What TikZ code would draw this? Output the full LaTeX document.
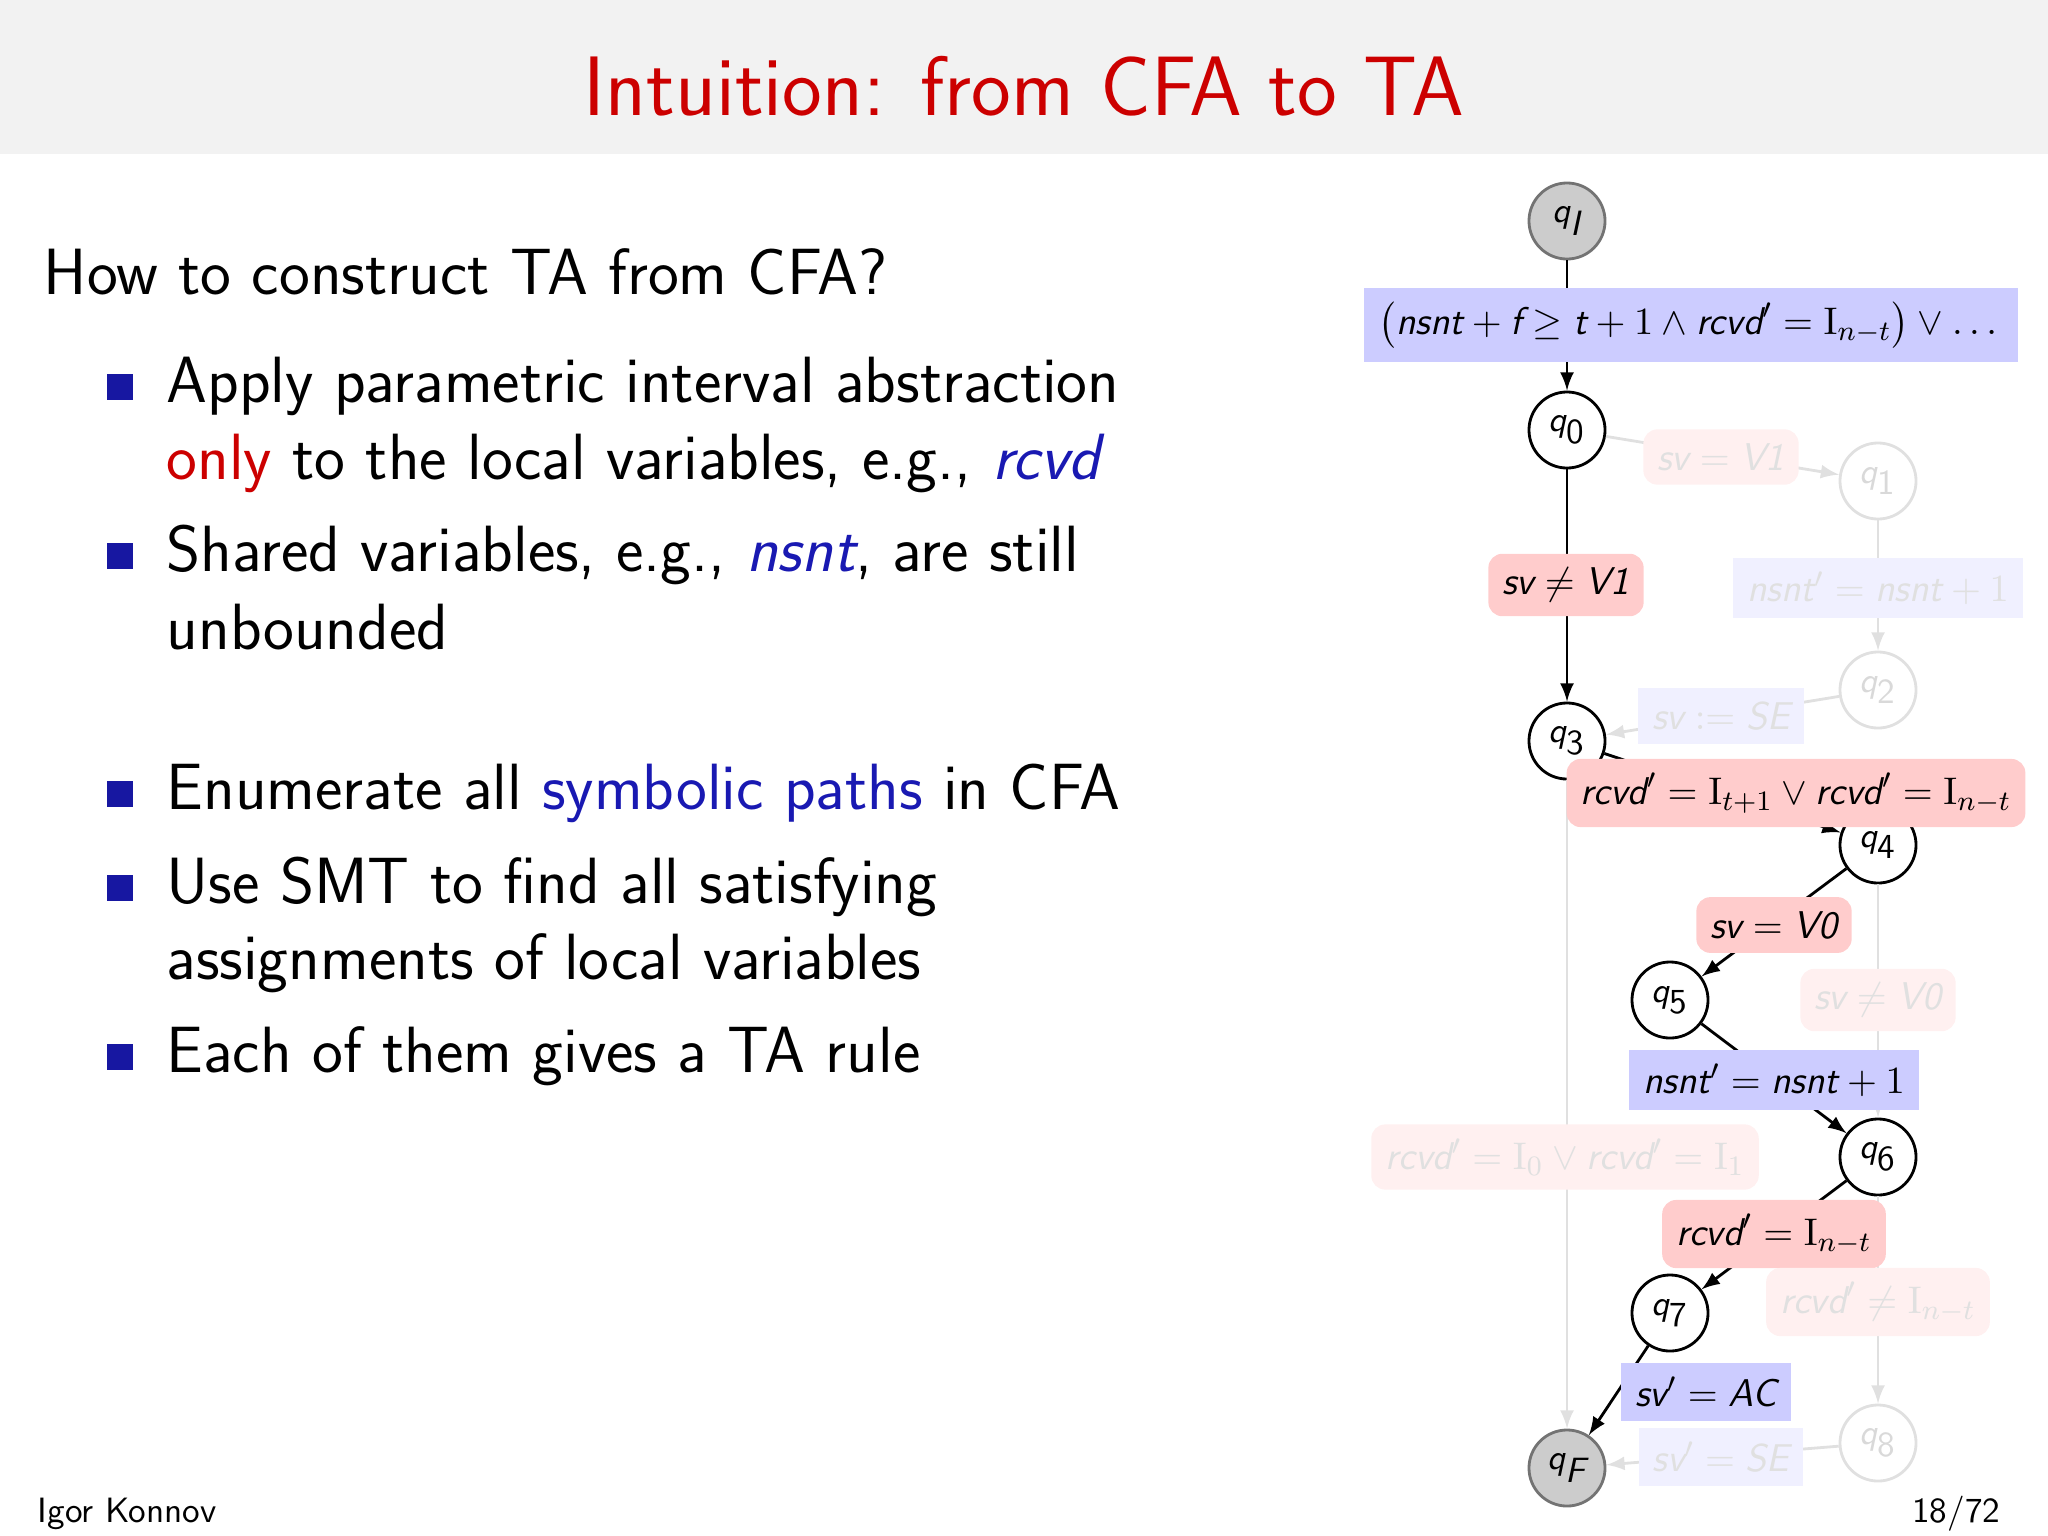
\documentclass[tikz,border=0pt]{standalone}
\usepackage{amsmath,amssymb}
\newcommand{\vr}[1]{\mbox{\sffamily\itshape #1}}
\newcommand{\In}[1]{\mathrm{I}_{#1}}
\newcommand{\qs}[1]{$\vr{q}_{\mbox{\sffamily #1}}$}
\definecolor{titlered}{rgb}{0.8,0,0}
\definecolor{slideblue}{rgb}{0.1,0.1,0.7}
\definecolor{guardred}{rgb}{1,0.8,0.8}
\definecolor{updblue}{rgb}{0.8,0.8,1}
\begin{document}
\begin{tikzpicture}[x=0.01cm, y=-0.01cm, font=\sffamily]
    \tikzset{
        st/.style={draw, circle, thick, minimum size=0.76cm, inner sep=0pt, font=\sffamily\normalsize},
        stf/.style={st, draw=black!12, text=black!15},
        fin/.style={st, fill=black!20, draw=black!55},
        arr/.style={thick, -latex},
        arrf/.style={thick, draw=black!12, -latex},
        grd/.style={fill=guardred, rounded corners=4pt, font=\sffamily\fontsize{11}{13}\selectfont, inner sep=4pt},
        grdf/.style={grd, fill=guardred!30, text=black!12},
        upd/.style={fill=updblue, font=\sffamily\fontsize{11}{13}\selectfont, inner sep=4pt},
        updf/.style={upd, fill=updblue!30, text=black!12},
        bul/.style={fill=slideblue!90!black, minimum size=0.26cm, inner sep=0pt},
        item/.style={anchor=base west, inner sep=0pt, font=\sffamily\fontsize{18.6}{22}\selectfont}
        }
    \useasboundingbox (0,0) rectangle (2048,1536);

    %slide frame
    \fill[black!5] (0,0) rectangle (2048,154);
    \node (title) [text=titlered, font=\sffamily\fontsize{24}{28}\selectfont] at (1024,86) {Intuition: from CFA to TA};
    \node (question) [item] at (43,294) {How to construct TA from CFA?};

    %bullets
    \foreach \y in {402,571,809,903,1072}
        \node[bul] at (120,\y-15) {};
    \node (b1a) [item] at (166,402) {Apply parametric interval abstraction};
    \node (b1b) [item] at (166,479) {\textcolor{titlered}{only} to the local variables, e.g., \textcolor{slideblue}{\itshape rcvd}};
    \node (b2a) [item] at (166,571) {Shared variables, e.g., \textcolor{slideblue}{\itshape nsnt}, are still};
    \node (b2b) [item] at (166,649) {unbounded};
    \node (b3) [item] at (166,809) {Enumerate all \textcolor{slideblue}{symbolic paths} in CFA};
    \node (b4a) [item] at (166,903) {Use SMT to find all satisfying};
    \node (b4b) [item] at (166,979) {assignments of local variables};
    \node (b5) [item] at (166,1072) {Each of them gives a TA rule};

    \node (author) [anchor=base west, inner sep=0pt, font=\sffamily\normalsize] at (37,1522) {Igor Konnov};
    \node (page) [anchor=base east, inner sep=0pt, font=\sffamily\normalsize] at (2001,1522) {18/72};

    %states
    \node (qI) [fin] at (1567,221) {$\vr{q}_{\vr{I}}$};
    \node (q0) [st] at (1567,430) {\qs{0}};
    \node (q1) [stf] at (1878,481) {\qs{1}};
    \node (q2) [stf] at (1878,690) {\qs{2}};
    \node (q3) [st] at (1567,741) {\qs{3}};
    \node (q4) [st] at (1878,845) {\qs{4}};
    \node (q5) [st] at (1670,1000) {\qs{5}};
    \node (q6) [st] at (1878,1157) {\qs{6}};
    \node (q7) [st] at (1670,1313) {\qs{7}};
    \node (q8) [stf] at (1878,1443) {\qs{8}};
    \node (qF) [fin] at (1567,1468) {$\vr{q}_{\vr{F}}$};

    %faded paths
    \draw[arrf] (q0) -- (q1);
    \draw[arrf] (q1) -- (q2);
    \draw[arrf] (q2) -- (q3);
    \draw[arrf] (q3) -- (qF);
    \draw[arrf] (q4) -- (q6);
    \draw[arrf] (q6) -- (q8);
    \draw[arrf] (q8) -- (qF);

    %taken path
    \draw[arr] (qI) -- (q0);
    \draw[arr] (q0) -- (q3);
    \draw[arr] (q3) -- (q4);
    \draw[arr] (q4) -- (q5);
    \draw[arr] (q5) -- (q6);
    \draw[arr] (q6) -- (q7);
    \draw[arr] (q7) -- (qF);

    %guards and updates
    \node (gI) [upd, minimum width=6.4cm, minimum height=0.7cm] at (1691,325) {$\left(\vr{nsnt} + \vr{f} \geq \vr{t} + 1 \wedge \vr{rcvd}' = \In{n-t}\right) \vee \dots$};
    \node (g01) [grdf] at (1721,457) {$\vr{sv} = \vr{V1}$};
    \node (u12) [updf] at (1878,588) {$\vr{nsnt}' = \vr{nsnt} + 1$};
    \node (u23) [updf] at (1721,716) {$\vr{sv} := \vr{SE}$};
    \node (g03) [grd] at (1566,585) {$\vr{sv} \neq \vr{V1}$};
    \node (g34) [grd] at (1796,793) {$\vr{rcvd}' = \In{t+1} \vee \vr{rcvd}' = \In{n-t}$};
    \node (g45) [grd] at (1774,925) {$\vr{sv} = \vr{V0}$};
    \node (g46) [grdf] at (1878,1000) {$\vr{sv} \neq \vr{V0}$};
    \node (u56) [upd] at (1774,1080) {$\vr{nsnt}' = \vr{nsnt} + 1$};
    \node (g3F) [grdf] at (1565,1157) {$\vr{rcvd}' = \In{0} \vee \vr{rcvd}' = \In{1}$};
    \node (g67) [grd] at (1774,1234) {$\vr{rcvd}' = \In{n-t}$};
    \node (g68) [grdf] at (1878,1302) {$\vr{rcvd}' \neq \In{n-t}$};
    \node (u7F) [upd] at (1706,1392) {$\vr{sv}' = \vr{AC}$};
    \node (u8F) [updf] at (1721,1457) {$\vr{sv}' = \vr{SE}$};
\end{tikzpicture}
\end{document}
